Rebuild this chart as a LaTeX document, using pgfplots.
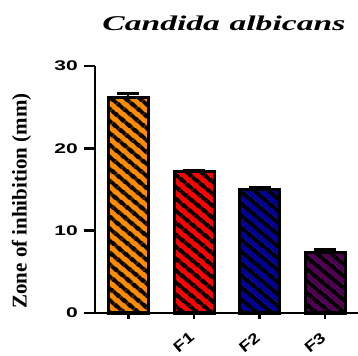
\documentclass[border=0pt]{standalone}
\usepackage{fontspec}
\setmainfont{Liberation Serif}
\newfontfamily\arialfont{Liberation Sans}
\usepackage{pgfplots}
\pgfplotsset{compat=1.18}
\usetikzlibrary{patterns.meta}
\definecolor{cOrange}{RGB}{255,140,0}
\definecolor{cRed}{RGB}{255,0,0}
\definecolor{cBlue}{RGB}{0,0,150}
\definecolor{cPurple}{RGB}{80,0,80}
\newcommand{\wx}[1]{\scalebox{1.25}[1]{#1}}
\tikzset{stripes/.style={postaction={pattern={Lines[angle=-40,distance=9.5bp,line width=4.5bp]},pattern color=black}}}
\begin{document}
\begin{tikzpicture}
\useasboundingbox (-95bp,-43bp) rectangle (263bp,313bp);
\begin{axis}[
  at={(0,0)}, anchor=south west,
  scale only axis, width=263bp, height=247bp,
  xmin=-0.51, xmax=3.5, ymin=0, ymax=30,
  axis x line=bottom, axis y line=left,
  axis line style={-, line width=2.5bp},
  ybar, bar width=40bp, bar shift=0pt,
  ytick={0,10,20,30},
  xtick={0,1,2,3}, xticklabels={{},\wx{F1},\wx{F2},\wx{F3}},
  tick align=outside,
  major tick length=11bp,
  tick style={line width=2.5bp, black},
  xtick style={/pgfplots/major tick length=6bp},
  /pgf/number format/assume math mode=true,
  yticklabel={\scalebox{1.5}[1]{\pgfmathprintnumber{\tick}}},
  yticklabel style={font=\arialfont\bfseries\fontsize{14bp}{14bp}\selectfont, inner sep=1bp, xshift=-5bp},
  xticklabel style={font=\arialfont\bfseries\fontsize{15bp}{15bp}\selectfont, rotate=40, anchor=north east, inner sep=0pt, yshift=-2bp, xshift=-8.5bp},
  ylabel={\textbf{Zone of inhibition (mm)}},
  ylabel style={font=\fontsize{21bp}{21bp}\selectfont, at={(axis description cs:-0.28,0.453)}, anchor=center},
  title={\scalebox{1.6}[1]{\textbf{\textit{Candida\hspace{6bp}albicans}}}},
  title style={font=\fontsize{21bp}{21bp}\selectfont, at={(axis description cs:0.49,1)}, anchor=base, yshift=30bp},
  clip=false,
]
\addplot[fill=cOrange, draw=black, line width=3bp, stripes] coordinates {(0,26.2)};
\addplot[fill=cRed, draw=black, line width=3bp, stripes] coordinates {(1,17.2)};
\addplot[fill=cBlue, draw=black, line width=3bp, stripes] coordinates {(2,15.0)};
\addplot[fill=cPurple, draw=black, line width=3bp, stripes] coordinates {(3,7.4)};
\addplot[sharp plot, draw=none, no marks, forget plot,
  error bars/.cd, y dir=plus, y explicit,
  error bar style={draw=black, line width=2bp},
  error mark options={rotate=90, mark size=11bp, line width=3bp, draw=black}]
  coordinates {(0,26.2) +- (0,0.5) (1,17.2) +- (0,0.1) (2,15.0) +- (0,0.2) (3,7.4) +- (0,0.3)};
\end{axis}
\end{tikzpicture}
\end{document}
